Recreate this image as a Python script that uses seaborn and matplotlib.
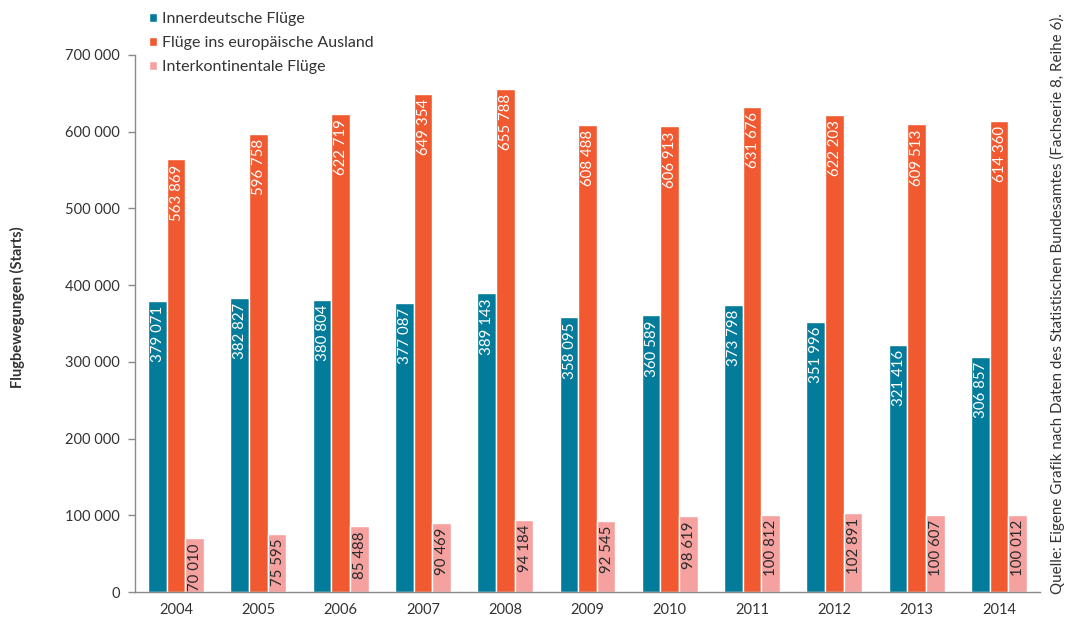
import matplotlib
matplotlib.use("Agg")
import matplotlib.pyplot as plt
import seaborn as sns
import pandas as pd
import numpy as np

years = ["2004", "2005", "2006", "2007", "2008", "2009", "2010", "2011", "2012", "2013", "2014"]
innerdeutsch = [379071, 382827, 380804, 377087, 389143, 358095, 360589, 373798, 351996, 321416, 306857]
europa = [563869, 596758, 622719, 649354, 655788, 608488, 606913, 631676, 622203, 609513, 614360]
interkont = [70010, 75595, 85488, 90469, 94184, 92545, 98619, 100812, 102891, 100607, 100012]
series_names = ["Innerdeutsche Flüge", "Flüge ins europäische Ausland", "Interkontinentale Flüge"]
colors = ["#037b9b", "#f15a30", "#f5a1a0"]
yticks = [0, 100000, 200000, 300000, 400000, 500000, 600000, 700000]

sns.set_theme(style="white")
plt.rcParams["font.family"] = ["Lato", "DejaVu Sans"]

rows = []
for name, vals in zip(series_names, [innerdeutsch, europa, interkont]):
    for y, v in zip(years, vals):
        rows.append({"Jahr": y, "Wert": v, "Serie": name})
df = pd.DataFrame(rows)

fig = plt.figure(figsize=(10.67, 6.18), dpi=100)
ax = fig.add_axes([135 / 1067, 1 - 592 / 618, (1040 - 135) / 1067, (592 - 55) / 618])

sns.barplot(data=df, x="Jahr", y="Wert", hue="Serie", hue_order=series_names,
            palette=colors, saturation=1, width=0.68, edgecolor="white",
            linewidth=1.0, ax=ax)

def fmt(v):
    return f"{v:,}".replace(",", " ")

text_colors = ["white", "white", "#2a2a2a"]
for i, cont in enumerate(ax.containers):
    for bar in cont:
        h = bar.get_height()
        ax.annotate(fmt(int(round(h))), (bar.get_x() + bar.get_width() / 2, h),
                    xytext=(0.5, -3.5), textcoords="offset points",
                    rotation=90, ha="center", va="top",
                    fontsize=10.8, color=text_colors[i])

handles, labels = ax.get_legend_handles_labels()
if ax.legend_ is not None:
    ax.legend_.remove()
fig.legend(handles, labels, loc="upper left", bbox_to_anchor=(149 / 1067, 1 - 12 / 618),
           frameon=False, handlelength=0.5, handleheight=0.5, handletextpad=0.3,
           labelspacing=0.63, fontsize=11.5, labelcolor="#333333", borderpad=0,
           borderaxespad=0)

ax.set_ylim(0, 700000)
ax.set_xlim(-0.5, len(years) - 0.5)
ax.set_yticks(yticks)
ax.set_yticklabels([fmt(t) for t in yticks])
ax.set_xticks(range(len(years)))
ax.set_xticklabels(years)
ax.set_xticks(np.arange(-0.5, len(years), 1.0), minor=True)
ax.tick_params(axis="x", which="major", length=0, pad=8, labelsize=10.5, labelcolor="#333333")
ax.tick_params(axis="x", which="minor", length=5, width=1, color="#8a8a8a", direction="out")
ax.tick_params(axis="y", length=5, width=1, color="#8a8a8a", direction="out", pad=6,
               labelsize=10.5, labelcolor="#333333", left=True)
ax.set_xlabel("")
ax.set_ylabel("")
sns.despine(ax=ax)
for s in ["left", "bottom"]:
    ax.spines[s].set_color("#8a8a8a")
    ax.spines[s].set_linewidth(1.0)

fig.text(17 / 1067, 1 - 307 / 618, "Flugbewegungen (Starts)", rotation=90,
         ha="center", va="center", fontsize=10.5, fontweight="bold", color="#333333")
fig.text(1057 / 1067, 1 - 304 / 618,
         "Quelle: Eigene Grafik nach Daten des Statistischen Bundesamtes (Fachserie 8, Reihe 6).",
         rotation=90, ha="center", va="center", fontsize=10.9, color="#333333")

fig.savefig("out.png", dpi=100)
